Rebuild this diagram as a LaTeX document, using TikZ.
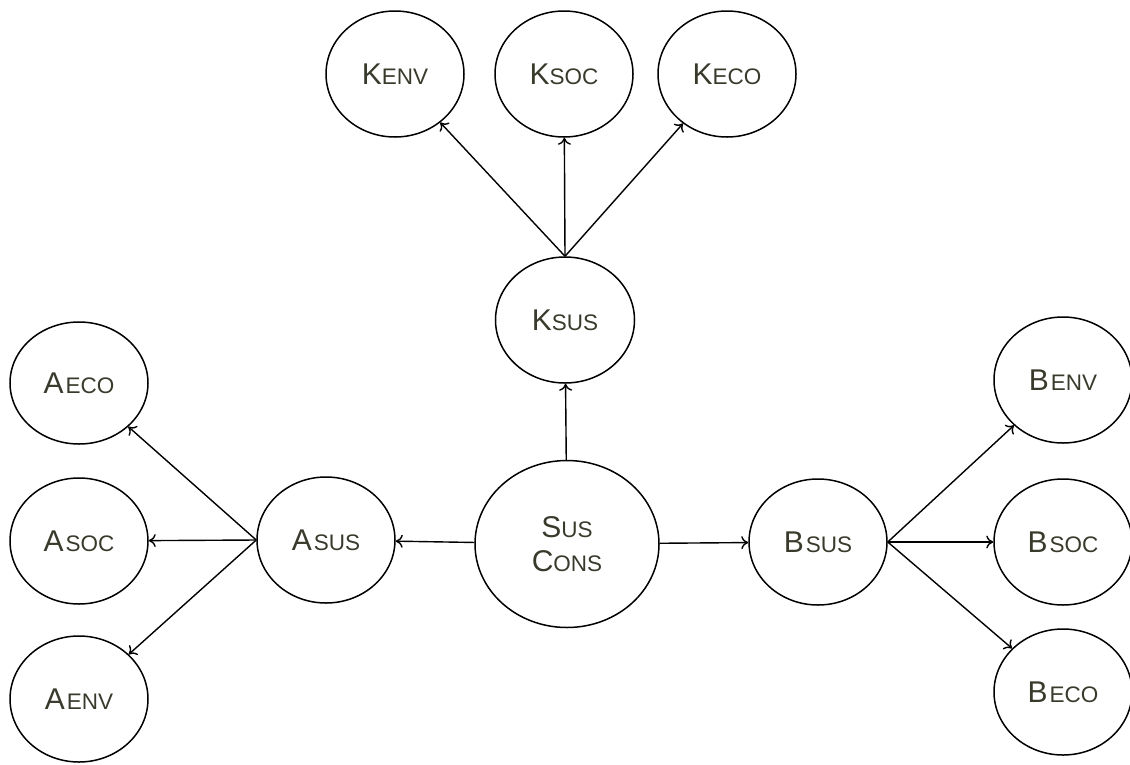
\documentclass[tikz,border=0pt]{standalone}
\usepackage{fontspec}
\setmainfont{Liberation Sans}
\usetikzlibrary{shapes.geometric,arrows.meta}
\definecolor{txt}{HTML}{3A3A2C}
\newcommand{\bigL}[1]{{\fontsize{30}{34}\selectfont #1}}
\newcommand{\smlL}[1]{{\fontsize{22.5}{26}\selectfont #1}}
\newcommand{\gapL}{\hspace{2pt}}
\begin{document}
\begin{tikzpicture}[x=1pt,y=-1pt,
  bub/.style={draw,line width=1.5pt,ellipse,inner sep=0pt,minimum width=138pt,minimum height=126pt,text=txt,align=center},
  arr/.style={line width=1.4pt,-{To[length=7pt,width=13pt]}}]
\useasboundingbox (0,0) rectangle (1130,764);
\node[bub] (kenv) at (395,74) {\bigL{K}\smlL{ENV}};
\node[bub] (ksoc) at (564,74) {\bigL{K}\smlL{SOC}};
\node[bub] (keco) at (727,74) {\bigL{K}\smlL{ECO}};
\node[bub,minimum width=139pt] (ksus) at (565,320) {\bigL{K}\smlL{SUS}};
\node[bub,minimum width=184pt,minimum height=167pt] (sus) at (567,544) {\bigL{S}\smlL{US}\\[12pt]\bigL{C}\smlL{ONS}};
\node[bub] (asus) at (326,540) {\bigL{A}\gapL\smlL{SUS}};
\node[bub] (bsus) at (818,542) {\bigL{B}\gapL\smlL{SUS}};
\node[bub,minimum height=122pt] (aeco) at (79,383) {\bigL{A}\gapL\smlL{ECO}};
\node[bub] (asoc) at (79,541) {\bigL{A}\gapL\smlL{SOC}};
\node[bub] (aenv) at (79,699) {\bigL{A}\gapL\smlL{ENV}};
\node[bub] (benv) at (1063,380) {\bigL{B}\gapL\smlL{ENV}};
\node[bub] (bsoc) at (1063,542) {\bigL{B}\gapL\smlL{SOC}};
\node[bub] (beco) at (1063,692) {\bigL{B}\gapL\smlL{ECO}};
\draw[arr] (sus) -- (asus);
\draw[arr] (sus) -- (bsus);
\draw[arr] (sus) -- (ksus);
\draw[arr] (ksus.north) -- (kenv);
\draw[arr] (ksus.north) -- (ksoc);
\draw[arr] (ksus.north) -- (keco);
\draw[arr] (asus.west) -- (aeco);
\draw[arr] (asus.west) -- (asoc);
\draw[arr] (asus.west) -- (aenv);
\draw[arr] (bsus.east) -- (benv);
\draw[arr] (bsus.east) -- (bsoc);
\draw[arr] (bsus.east) -- (beco);
\end{tikzpicture}
\end{document}
